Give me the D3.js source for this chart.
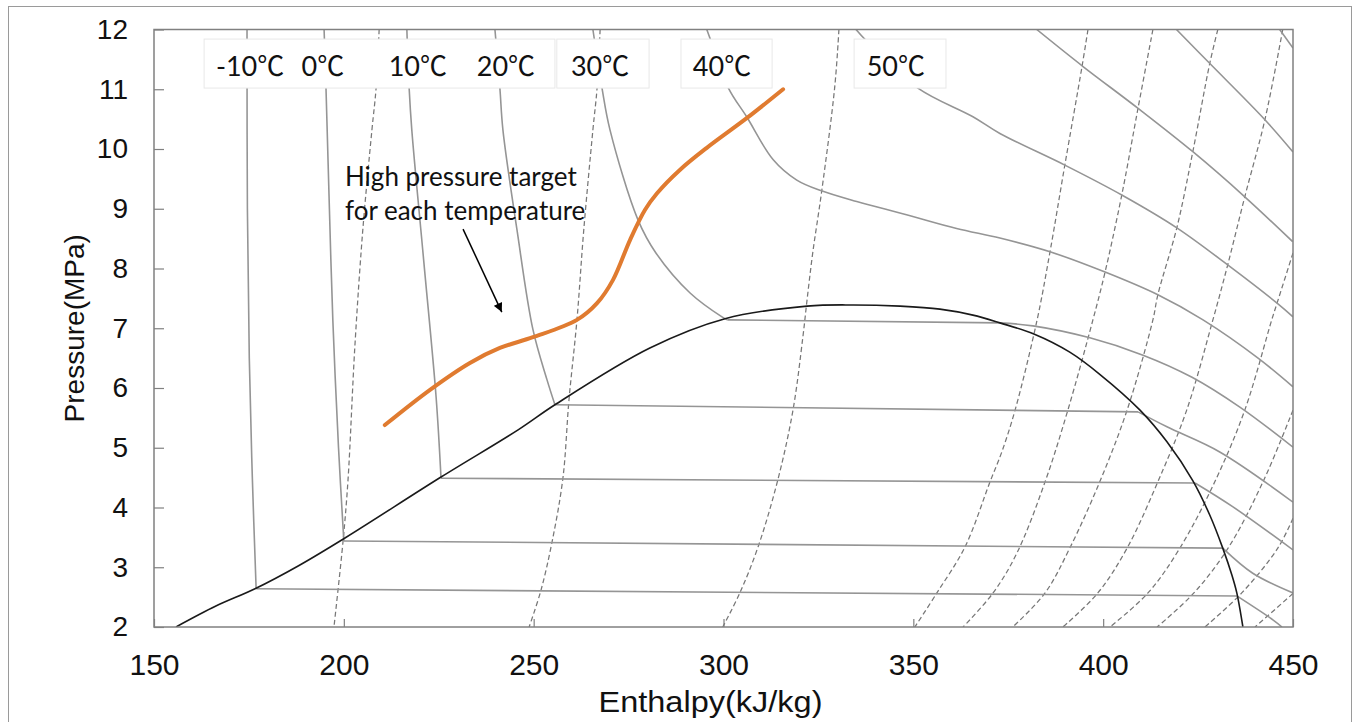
<!DOCTYPE html>
<html>
<head>
<meta charset="utf-8">
<script src="https://cdn.jsdelivr.net/npm/d3@7"></script>
<style>
  html, body { margin: 0; padding: 0; background: #fff; }
  svg { display: block; }
</style>
</head>
<body>
<script>
// ---------------- DATA (enthalpy kJ/kg, pressure MPa) ----------------
const xTicks = [150, 200, 250, 300, 350, 400, 450];
const yTicks = [2, 3, 4, 5, 6, 7, 8, 9, 10, 11, 12];

// saturation dome
const dome = [[155.8,2.0],[166.3,2.35],[176.6,2.64],[188.2,3.03],[200.3,3.49],[225.6,4.51],[245.9,5.30],
  [255.6,5.72],[280.6,6.67],[300.4,7.16],[322.0,7.37],[334.1,7.39],[346.5,7.37],[357.0,7.32],[365.7,7.22],
  [372.8,7.09],[381.9,6.90],[391.2,6.60],[399.1,6.23],[409.7,5.63],[416.8,5.10],[423.6,4.45],[428.1,3.87],
  [431.5,3.32],[433.9,2.87],[435.2,2.57],[436.8,2.0]];

// isotherms: liquid branch, vapour branch (two-phase part joins them)
const isoM10Liquid = [[174.5,12],[174.6,9.0],[175.1,6.5],[175.9,4.5],[176.9,2.64]];
const isoM10Vapor  = [[435.2,2.52],[444.7,2.12],[447.1,2.0]];
const iso0Liquid   = [[194.8,12],[195.3,11.02],[196.2,9.0],[197.1,7.14],[198.6,5.0],[200.0,3.44]];
const iso0Vapor    = [[431.5,3.32],[439.4,2.90],[450.0,2.57]];
const iso10Liquid  = [[216.6,12],[217.2,11.02],[217.9,10.32],[221.1,8.09],[224.3,5.85],[225.6,4.49]];
const iso10Vapor   = [[424.2,4.41],[434.2,4.01],[450.0,3.29]];
const iso20Liquid  = [[239.8,12],[241.1,11.02],[241.9,10.32],[245.6,8.65],[249.8,6.98],[253.5,6.14],[255.6,5.72]];
const iso20Vapor   = [[409.2,5.60],[416.8,5.35],[430.7,4.93],[450.0,4.09]];
const iso30Liquid  = [[265.6,12],[268.0,11.02],[270.1,10.32],[277.5,8.81],[282.2,8.26],[291.2,7.59],[299.6,7.19],[301.0,7.14]];
const iso30Vapor   = [[372.8,7.09],[381.5,7.04],[396.5,6.84],[410.5,6.55],[423.4,6.18],[436.0,5.68],[450.0,5.01]];
// supercritical / superheated isotherms
const iso40 = [[295.6,12],[296.4,11.86],[301.3,11.02],[306.1,10.54],[313.1,9.82],[319.3,9.48],[325.8,9.30],
  [335.1,9.12],[348.2,8.90],[361.4,8.67],[372.8,8.51],[386.0,8.28],[400.5,7.94],[414.4,7.56],[426.3,7.14],
  [440.8,6.50],[450.0,6.02]];
const iso50 = [[334.9,12],[337.5,11.82],[351.2,11.02],[365.7,10.54],[372.8,10.26],[389.9,9.73],[404.9,9.23],
  [419.4,8.68],[432.8,8.06],[445.8,7.42],[450.0,7.19]];
const iso60 = [[382.5,12],[394.7,11.38],[409.2,10.68],[423.7,9.95],[437.3,9.20],[449.9,8.45]];
const iso70 = [[419.3,12],[428.1,11.43],[442.6,10.49],[450.0,9.95]];
const iso80 = [[446.5,12],[450.0,11.69]];

// isentropes (dashed)
const sA  = [[209.3,12],[208.5,11.02],[207.4,10.32],[205.0,8.65],[202.9,6.69],[201.1,4.46],[199.8,3.44],[197.4,2.0]];
const sB  = [[267.5,12],[266.7,11.02],[265.6,10.32],[263.2,8.65],[261.4,7.14],[259.3,5.80],[257.7,4.49],[254.8,3.41],[251.9,2.61],[248.8,2.0]];
const sC  = [[330.4,12],[329.3,11.04],[325.9,9.31],[323.5,8.26],[322.0,7.47],[320.9,6.85],[318.3,5.63],[314.3,4.46],[309.1,3.34],[304.3,2.57],[299.8,2.0]];
const sD1 = [[396.0,12],[394.4,11.37],[389.9,9.73],[386.0,8.28],[382.6,7.14],[376.8,5.63],[373.3,4.93],[370.2,4.43],[363.6,3.34],[356.2,2.57],[350.4,2.0]];
const sD2 = [[413.1,12],[409.2,10.69],[404.9,9.23],[400.5,7.94],[397.3,7.14],[390.7,5.63],[384.7,4.43],[377.3,3.24],[371.0,2.57],[363.1,2.0]];
const sD3 = [[430.2,12],[428.1,11.44],[423.6,9.95],[419.4,8.68],[414.4,7.56],[413.1,7.14],[406.3,5.63],[399.1,4.43],[391.2,3.32],[384.7,2.57],[376.2,2.0]];
const sD4 = [[447.3,12],[442.6,10.49],[437.3,9.20],[432.8,8.06],[428.9,7.14],[422.0,5.63],[414.4,4.43],[406.3,3.32],[398.6,2.57],[389.4,2.0]];
const sD5 = [[450.0,8.26],[445.8,7.42],[444.4,7.14],[437.3,5.63],[429.4,4.43],[420.2,3.32],[411.8,2.57],[401.8,2.0]];
const sD6 = [[450.0,5.63],[442.1,4.43],[432.9,3.32],[423.9,2.57],[414.2,2.0]];
const sD7 = [[450.0,3.82],[446.0,3.32],[436.5,2.57],[426.8,2.0]];
const sD8 = [[450.0,2.56],[440.0,2.0]];

// high pressure target curve
const target = [[210.8,5.38],[222.7,5.97],[233.2,6.42],[241.1,6.67],[249.8,6.85],[261.4,7.14],[266.7,7.42],
  [270.9,7.81],[275.4,8.48],[279.3,8.98],[282.5,9.26],[288.5,9.65],[295.6,10.02],[306.2,10.52],[315.7,11.00]];

// temperature labels
const tempLabels = ["-10℃", "0℃", "10℃", "20℃", "30℃", "40℃", "50℃"];
const tempLabelH = [175.3, 194.5, 219.5, 242.7, 267.5, 299.6, 345.4];
const tempLabelP = 11.22;
const labelBoxes = [[163.2,255.6],[256.1,280.4],[288.8,312.8],[334.4,358.6]];
const labelBoxP = [11.02, 11.84];

// annotation
const noteLines = ["High pressure target", "for each temperature"];
const noteH = 200.3;
const noteP = [9.38, 8.81];
const arrowFrom = [231.4, 8.66];
const arrowTo = [241.6, 7.27];

// ---------------- DRAWING ----------------
const W = 1358, H = 722;
const L = 154, R = 1293, T = 29.5, B = 627;

const svg = d3.select("body").append("svg").attr("width", W).attr("height", H);
svg.append("rect").attr("width", W).attr("height", H).attr("fill", "#fff");
// outer frame
svg.append("rect").attr("x", 8.5).attr("y", 6.5).attr("width", 1343).attr("height", 730)
  .attr("fill", "none").attr("stroke", "#9a9a9a").attr("stroke-width", 1);

const x = d3.scaleLinear().domain([150, 450]).range([L, R]);
const y = d3.scaleLinear().domain([2, 12]).range([B, T]);

const defs = svg.append("defs");
defs.append("clipPath").attr("id", "plotclip")
  .append("rect").attr("x", L).attr("y", T).attr("width", R - L).attr("height", B - T);
defs.append("marker").attr("id", "arrowhead").attr("viewBox", "0 0 10 10")
  .attr("refX", 10).attr("refY", 5).attr("markerWidth", 10).attr("markerHeight", 9)
  .attr("markerUnits", "userSpaceOnUse").attr("orient", "auto")
  .append("path").attr("d", "M0,0 L10,5 L0,10 Z").attr("fill", "#000");

const line = d3.line().x(d => x(d[0])).y(d => y(d[1])).curve(d3.curveCatmullRom.alpha(0.5));
const straight = d3.line().x(d => x(d[0])).y(d => y(d[1]));

const g = svg.append("g").attr("clip-path", "url(#plotclip)");

// isentropes
[sA, sB, sC, sD1, sD2, sD3, sD4, sD5, sD6, sD7, sD8].forEach(s => {
  g.append("path").attr("d", line(s)).attr("fill", "none")
    .attr("stroke", "#777").attr("stroke-width", 1.25).attr("stroke-dasharray", "5,3");
});

// isotherms
const isoStyle = p => p.attr("fill", "none").attr("stroke", "#959595").attr("stroke-width", 1.6);
[[isoM10Liquid, isoM10Vapor], [iso0Liquid, iso0Vapor], [iso10Liquid, iso10Vapor],
 [iso20Liquid, iso20Vapor], [iso30Liquid, iso30Vapor]].forEach(([liq, vap]) => {
  isoStyle(g.append("path").attr("d", line(liq)));
  isoStyle(g.append("path").attr("d", straight([liq[liq.length - 1], vap[0]])));
  isoStyle(g.append("path").attr("d", line(vap)));
});
[iso40, iso50, iso60, iso70, iso80].forEach(s => isoStyle(g.append("path").attr("d", line(s))));

// saturation dome
g.append("path").attr("d", line(dome)).attr("fill", "none").attr("stroke", "#1a1a1a").attr("stroke-width", 1.6);

// target curve
g.append("path").attr("d", line(target)).attr("fill", "none").attr("stroke", "#e07b30")
  .attr("stroke-width", 4).attr("stroke-linecap", "round");

// label boxes + labels
labelBoxes.forEach(b => {
  svg.append("rect").attr("x", x(b[0])).attr("y", y(labelBoxP[1]))
    .attr("width", x(b[1]) - x(b[0])).attr("height", y(labelBoxP[0]) - y(labelBoxP[1]))
    .attr("fill", "#fff").attr("stroke", "#e8e8e8").attr("stroke-width", 1);
});
tempLabels.forEach((t, i) => {
  svg.append("text").attr("x", x(tempLabelH[i])).attr("y", y(tempLabelP))
    .attr("text-anchor", "middle").attr("font-family", "Lato, 'Noto Sans CJK JP', sans-serif")
    .attr("font-size", 27).attr("fill", "#111").text(t);
});

// annotation
noteLines.forEach((t, i) => {
  svg.append("text").attr("x", x(noteH)).attr("y", y(noteP[i]))
    .attr("font-family", "Lato, 'Open Sans', sans-serif").attr("font-size", 26)
    .attr("fill", "#111").text(t);
});
svg.append("line").attr("x1", x(arrowFrom[0])).attr("y1", y(arrowFrom[1]))
  .attr("x2", x(arrowTo[0])).attr("y2", y(arrowTo[1]))
  .attr("stroke", "#000").attr("stroke-width", 1.5).attr("marker-end", "url(#arrowhead)");

// plot frame
svg.append("rect").attr("x", L).attr("y", T).attr("width", R - L).attr("height", B - T)
  .attr("fill", "none").attr("stroke", "#808080").attr("stroke-width", 1.5);

// axes
const yAxis = d3.axisLeft(y).tickValues(yTicks).tickSize(-10).tickPadding(26).tickFormat(d3.format("d"));
const ya = svg.append("g").attr("transform", `translate(${L},0)`).call(yAxis);
ya.select(".domain").remove();
ya.selectAll(".tick line").attr("stroke", "#808080").attr("stroke-width", 1.2);
ya.selectAll(".tick text").attr("font-family", "'Liberation Sans', Arial, sans-serif")
  .attr("font-size", 28).attr("fill", "#111");

const xAxis = d3.axisBottom(x).tickValues(xTicks).tickSize(-8).tickPadding(27).tickFormat(d3.format("d"));
const xa = svg.append("g").attr("transform", `translate(0,${B})`).call(xAxis);
xa.select(".domain").remove();
xa.selectAll(".tick line").attr("stroke", "#808080").attr("stroke-width", 1.2);
xa.selectAll(".tick text").attr("font-family", "'Liberation Sans', Arial, sans-serif")
  .attr("font-size", 30).attr("fill", "#111");

// axis titles
svg.append("text").attr("transform", `translate(84,${(T + B) / 2}) rotate(-90)`)
  .attr("text-anchor", "middle").attr("font-family", "'Liberation Sans', Arial, sans-serif")
  .attr("font-size", 28).attr("fill", "#111").text("Pressure(MPa)");
svg.append("text").attr("x", (L + R) / 2 - 13).attr("y", 712)
  .attr("text-anchor", "middle").attr("font-family", "'Liberation Sans', Arial, sans-serif")
  .attr("font-size", 30).attr("textLength", 224).attr("lengthAdjust", "spacingAndGlyphs")
  .attr("fill", "#111").text("Enthalpy(kJ/kg)");
</script>
</body>
</html>
